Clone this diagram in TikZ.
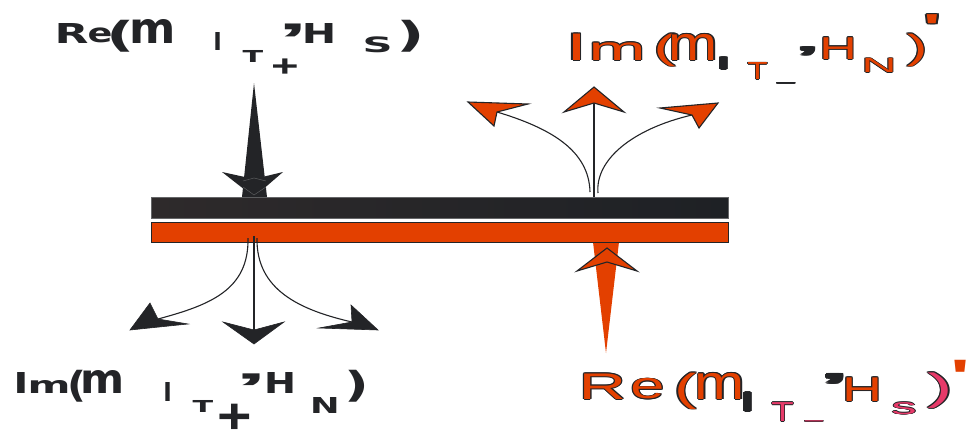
\documentclass[tikz,border=0pt]{standalone}
\usepackage{fontspec}
\setmainfont{Liberation Sans}
\newfontfamily\dvb{DejaVu Sans}
\usepackage{graphicx}
\definecolor{dk}{RGB}{35,36,39}
\definecolor{dkl}{RGB}{46,42,43}
\definecolor{dkr}{RGB}{30,33,37}
\definecolor{org}{RGB}{227,64,0}
\definecolor{pnk}{RGB}{230,58,105}
\newcommand\olt[2]{\leavevmode
  \rlap{\color{dk}\kern-.6pt#2}\rlap{\color{dk}\kern.6pt#2}%
  \rlap{\color{dk}\raisebox{.6pt}{#2}}\rlap{\color{dk}\raisebox{-.6pt}{#2}}%
  \rlap{\color{dk}\kern-.42pt\raisebox{.42pt}{#2}}\rlap{\color{dk}\kern.42pt\raisebox{.42pt}{#2}}%
  \rlap{\color{dk}\kern-.42pt\raisebox{-.42pt}{#2}}\rlap{\color{dk}\kern.42pt\raisebox{-.42pt}{#2}}%
  {\color{#1}#2}}
\newcommand\bk[1]{{\dvb\bfseries\color{dk}#1}}
\newcommand\bq[1]{{\bfseries\color{dk}#1}}
\newcommand\qr{\raisebox{-0.49em}[0.24em][0pt]{’}}
\newcommand\qs{\raisebox{-0.46em}[0.27em][0pt]{\textquotesingle}}
\newcommand\pl{\raisebox{-0.1em}[0.5em][0pt]{+}}
\newcommand\glp[7]{%
  \pgfmathsetmacro\gw{(#3-#2)*#6}\pgfmathsetmacro\gh{#5-#4}\pgfmathsetmacro\gx{(#2+#3)/2}%
  \node[inner sep=0pt, outer sep=0pt, anchor=south] (#1) at (\gx,#5)
    {\resizebox*{\gw pt}{\gh pt}{\fontsize{30}{30}\selectfont #7}};}
\tikzset{
  hd/.style={fill=org, draw=dk, line width=1.1pt, line join=miter},
  ln/.style={draw=dk, line width=1.1pt},
  bhd/.style={fill=dk, draw=dk, line width=0.6pt, line join=miter}
}
\begin{document}
\begin{tikzpicture}[x=1pt,y=-1pt]
\useasboundingbox (0,0) rectangle (974,429);
\fill[white] (0,0) rectangle (974,429);

% orange spike under the bars (drawn first)
\fill[org] (593,242) -- (619,242) -- (606,353) -- cycle;

% bars
\shade[left color=dkl, right color=dkr] (151,197) rectangle (728,218);
\draw[dk!70!white, line width=0.6pt] (151,197) rectangle (728,218);
\node[inner sep=0pt, draw=dk, line width=1.2pt, fill=org, minimum width=577pt, minimum height=20pt, anchor=north west] (obar) at (151,222) {};

% black incoming arrow (top left)
\fill[dk] (254,83) -- (267,197) -- (242,197) -- cycle;
\fill[dk] (222,172) -- (254,179) -- (283,172) -- (254,197) -- cycle;
\draw[dk!75!white, line width=0.5pt] (243,181) -- (254,178) -- (266,181);
\draw[dk!75!white, line width=0.5pt] (243,187) -- (254,195) -- (266,187);

% orange outgoing arrows (top right)
\coordinate (uc0) at (594,197);
\coordinate (uc1) at (594,103);
\coordinate (ul0) at (590,192);
\coordinate (ul1) at (497,112);
\coordinate (ur0) at (598,193);
\coordinate (ur1) at (692,115);
\draw[ln] (uc0) -- (uc1);
\draw[ln] (ul0) .. controls (589,150) and (550,128) .. (ul1);
\draw[ln] (ur0) .. controls (595,160) and (632,129) .. (ur1);
\filldraw[hd] (594,87) -- (624,112) -- (uc1) -- (564,112) -- cycle;
\filldraw[hd] (468,102) -- (528,104) -- (ul1) -- (494,126) -- cycle;
\filldraw[hd] (718,103) -- (699,128) -- (ur1) -- (660,108) -- cycle;

% black outgoing arrows (bottom left)
\coordinate (dc0) at (254,236);
\coordinate (dc1) at (254,330);
\coordinate (dl0) at (248,238);
\coordinate (dl1) at (158,319);
\coordinate (dr0) at (257,238);
\coordinate (dr1) at (352,322);
\draw[ln] (dc0) -- (dc1);
\draw[ln] (dl0) .. controls (249,290) and (210,305) .. (dl1);
\draw[ln] (dr0) .. controls (256,290) and (300,310) .. (dr1);
\filldraw[bhd] (254,344) -- (223,322) -- (dc1) -- (284,322) -- cycle;
\filldraw[bhd] (130,330) -- (150,303) -- (dl1) -- (188,324) -- cycle;
\filldraw[bhd] (378,330) -- (351,305) -- (dr1) -- (319,328) -- cycle;

% orange incoming arrow head (bottom right)
\filldraw[hd] (607,248) -- (637,271) -- (607,262) -- (577,271) -- cycle;

% label top left
\glp{tl1}{57}{86}{23}{43}{1.17}{\bk R}
\glp{tl2}{89}{111}{28}{43}{1.13}{\bk e}
\glp{tl3}{113}{128}{20}{52}{1.9}{\bk (}
\glp{tl4}{132}{173}{19}{43}{1.13}{\bk m}
\glp{tl5}{215}{220}{32}{50}{1.7}{\bk l}
\glp{tl6}{243}{263}{50}{62}{1.03}{\bk T}
\glp{tl7}{273}{297}{58}{73}{1.15}{\bq \pl}
\glp{tl8}{287}{299}{22}{33}{2.6}{\bq \qr}
\glp{tl9}{305}{333}{23}{43}{1.23}{\bk H}
\glp{tl10}{365}{390}{37}{53}{1.2}{\bk S}
\glp{tl11}{403}{418}{20}{52}{1.9}{\bk )}

% label bottom left
\glp{bl1}{17}{25}{372}{393}{1.85}{\bk I}
\glp{bl2}{30}{68}{380}{393}{1.13}{\bk m}
\glp{bl3}{72}{82}{370}{402}{1.9}{\bk (}
\glp{bl4}{83}{122}{370}{393}{1.13}{\bk m}
\glp{bl5}{165}{170}{382}{401}{1.7}{\bk l}
\glp{bl6}{193}{213}{400}{412}{1.03}{\bk T}
\glp{bl7}{220}{250}{403}{428}{1.15}{\bq \pl}
\glp{bl8}{245}{258}{372}{382}{2.6}{\bq \qr}
\glp{bl9}{267}{293}{372}{393}{1.23}{\bk H}
\glp{bl10}{313}{337}{397}{413}{1.23}{\bk N}
\glp{bl11}{350}{363}{370}{402}{1.9}{\bk )}

% label top right
\glp{tr1}{573}{580}{33}{61}{3}{\olt{org}{I}}
\glp{tr2}{592}{642}{42}{61}{1.14}{\olt{org}{m}}
\glp{tr3}{657}{672}{33}{67}{1.5}{\olt{org}{(}}
\glp{tr4}{672}{715}{33}{61}{1.14}{\olt{org}{m}}
\glp{tr5}{721}{726}{57}{70}{3}{\olt{dk}{l}}
\glp{tr6}{748}{767}{62}{80}{1.07}{\olt{org}{T}}
\glp{tr7}{777}{795}{80}{84}{0.96}{\olt{dk}{\textunderscore}}
\glp{tr8}{803}{812}{45}{55}{2.8}{\olt{dk}{\qr}}
\glp{tr9}{823}{853}{37}{60}{1.25}{\olt{org}{H}}
\glp{tr10}{865}{893}{58}{73}{1.25}{\olt{org}{N}}
\glp{tr11}{910}{924}{33}{67}{1.5}{\olt{org}{)}}
\glp{tr12}{928}{937}{12}{25}{2.4}{\olt{org}{\qs}}

% label bottom right
\glp{br1}{582}{623}{373}{400}{1.15}{\olt{org}{R}}
\glp{br2}{632}{663}{378}{400}{1.1}{\olt{org}{e}}
\glp{br3}{678}{693}{372}{410}{1.5}{\olt{org}{(}}
\glp{br4}{698}{742}{372}{400}{1.14}{\olt{org}{m}}
\glp{br5}{745}{750}{392}{412}{3}{\olt{dk}{l}}
\glp{br6}{772}{793}{402}{422}{1.07}{\olt{pnk}{T}}
\glp{br7}{805}{823}{418}{422}{0.96}{\olt{pnk}{\textunderscore}}
\glp{br8}{829}{840}{372}{383}{2.8}{\olt{dk}{\qr}}
\glp{br9}{846}{878}{377}{402}{1.25}{\olt{org}{H}}
\glp{br10}{893}{915}{402}{415}{1.15}{\olt{pnk}{s}}
\glp{br11}{932}{949}{372}{409}{1.5}{\olt{pnk}{)}}
\glp{br12}{955}{965}{358}{373}{2.4}{\color{org}\qs}
\end{tikzpicture}
\end{document}
